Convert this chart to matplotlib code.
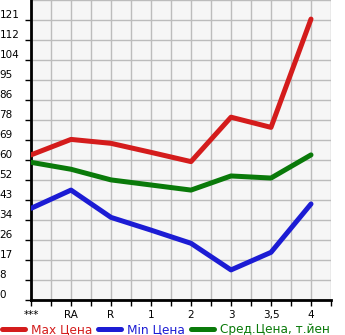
import numpy as np
import matplotlib
matplotlib.use("Agg")
import matplotlib.pyplot as plt

categories = ["***", "RA", "R", "1", "2", "3", "3,5", "4"]
max_price = [62.7, 69.4, 67.7, 63.8, 59.8, 79.0, 74.6, 121.4]
min_price = [39.6, 47.5, 35.7, 30.2, 24.5, 13.0, 20.6, 41.5]
avg_price = [59.5, 56.5, 51.9, 49.7, 47.5, 53.6, 52.7, 62.7]
ytick_labels = ["0", "8", "17", "26", "34", "43", "52", "60", "69", "78",
                "86", "95", "104", "112", "121"]

STEP = 121.0 / 14
RED, BLUE, GREEN = "#d41c1c", "#1c1cd4", "#0a7a0a"

fig = plt.figure(figsize=(3.45, 3.35), dpi=100)
ax = fig.add_axes([31 / 345, 35 / 335, 300 / 345, 300 / 335])
ax.set_facecolor("#f6f6f6")

x = np.arange(len(categories))
ax.plot(x, max_price, color=RED, lw=3.6, solid_capstyle="round", label="Max Цена", zorder=3)
ax.plot(x, min_price, color=BLUE, lw=3.6, solid_capstyle="round", label="Min Цена", zorder=3)
ax.plot(x, avg_price, color=GREEN, lw=3.6, solid_capstyle="round",
        label="Сред.Цена, т.йен", zorder=3)

ax.set_xlim(0, 7.5)
ax.set_ylim(0, STEP * 15)
ax.set_yticks(np.arange(15) * STEP)
ax.set_yticklabels(ytick_labels)
ax.set_xticks(x)
ax.set_xticklabels(categories)
ax.set_xticks(np.arange(0.5, 7.6, 1.0), minor=True)
ax.set_yticks([15 * STEP], minor=True)
ax.grid(True, which="both", color="#bcbcbc", lw=1.0, zorder=1)
# left-aligned y labels starting at the figure edge
ax.tick_params(axis="y", labelsize=7.5, length=4, width=1, pad=26 * 0.72)
for lab in ax.get_yticklabels():
    lab.set_horizontalalignment("left")
    lab.set_verticalalignment("bottom")
ax.tick_params(axis="x", labelsize=7.5, length=4, width=1, pad=3)
ax.tick_params(axis="x", which="minor", length=4, width=1)
ax.tick_params(axis="y", which="minor", length=0)

for side in ("top", "right"):
    ax.spines[side].set_visible(False)
ax.spines["left"].set_linewidth(2)
ax.spines["bottom"].set_linewidth(2)

fig.legend(loc="lower left", bbox_to_anchor=(-0.015, -0.025), ncol=3, frameon=False,
           fontsize=8.7, handlelength=1.9, handletextpad=0.5, columnspacing=0.5,
           labelcolor="linecolor", borderaxespad=0.2)

fig.savefig("out.png", dpi=100)
